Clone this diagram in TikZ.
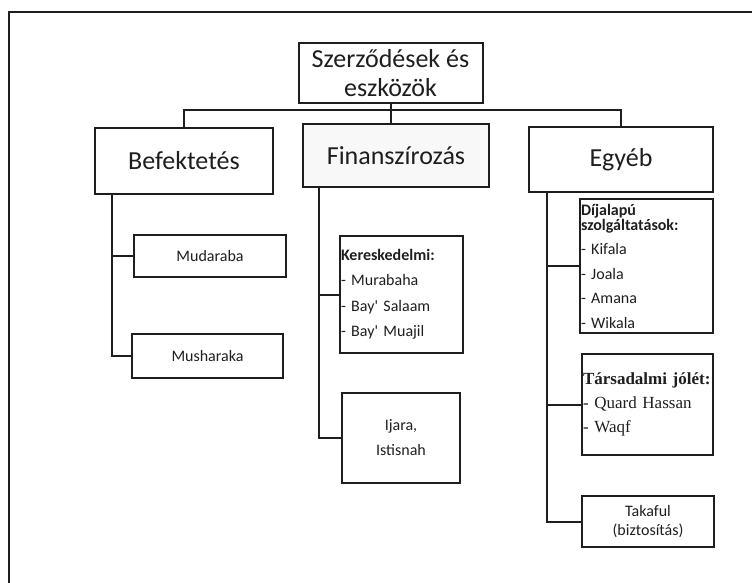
\documentclass[tikz,border=0pt]{standalone}
\usepackage{fontspec}
\setmainfont{Carlito}
\newfontfamily\timesfont{Liberation Serif}
\usetikzlibrary{positioning}
\definecolor{inkgray}{RGB}{30,30,30}
\definecolor{finfill}{RGB}{248,248,248}

\begin{document}
\begin{tikzpicture}[x=1pt,y=-1pt,
        box/.style={draw=inkgray, line width=2pt, inner sep=0pt, text=inkgray},
        big/.style={box, font=\fontsize{26}{29}\selectfont, align=center},
        small/.style={box, font=\fontsize{16}{25}\selectfont},
        wire/.style={draw=inkgray, line width=2pt}]
  \useasboundingbox (0,0) rectangle (752,583);
  \draw[wire] (752,12) -| (9,583);
  \node[big, minimum width=184pt, minimum height=60pt] (root) at (390.5,73) {Szerződések és\\eszközök};
  \node[big, minimum width=178pt, minimum height=66pt] (bef) at (184,161) {Befektetés};
  \node[big, fill=finfill, minimum width=186pt, minimum height=63pt] (fin) at (396,155.5) {Finanszírozás};
  \node[big, minimum width=184pt, minimum height=65pt] (egy) at (621,159.5) {Egyéb};
  \coordinate[below=6pt of root.south] (bus);
  \draw[wire] (root.south) -- (root.south |- fin.north);
  \draw[wire] (bef.north) |- (bus) -| (egy.north);

  \node[small, minimum width=152pt, minimum height=42pt] (muda) at (210,256) {Mudaraba};
  \node[small, minimum width=151pt, minimum height=44pt] (mush) at (207.5,356) {Musharaka};
  \draw[wire] ([xshift=18pt]bef.south west) |- (muda.west);
  \draw[wire] ([xshift=18pt]bef.south west) |- (mush.west);

  \node[small, font=\fontsize{16}{25.5}\selectfont, align=left, text width=121pt, inner xsep=1pt,
    minimum width=123pt, minimum height=117pt] (ker) at (401.5,294.5)
    {\textbf{Kereskedelmi:}\\- Murabaha\\- Bay\textquotesingle{} Salaam\\- Bay\textquotesingle{} Muajil};
  \node[small, align=center, minimum width=118pt, minimum height=90pt] (ijara) at (401,438) {Ijara,\\Istisnah};
  \draw[wire] ([xshift=17pt]fin.south west) |- (ker.west);
  \draw[wire] ([xshift=17pt]fin.south west) |- (ijara.west);

  \node[small, font=\fontsize{16}{24.5}\selectfont, align=left, text width=131pt, inner xsep=1pt,
    minimum width=133pt, minimum height=134pt] (dij) at (646.5,266)
    {\textbf{Díjalapú}\\[-9.5pt]\textbf{szolgáltatások:}\\- Kifala\\- Joala\\- Amana\\- Wikala};
  \node[box, font=\timesfont\fontsize{17}{24}\selectfont, align=left, text width=129pt, inner xsep=1pt,
    minimum width=131pt, minimum height=101pt] (tars) at (647.5,404.5)
    {\textbf{Társadalmi jólét:}\\- Quard Hassan\\- Waqf};
  \node[small, font=\fontsize{16}{19}\selectfont, align=center,
    minimum width=132pt, minimum height=51pt] (tak) at (648,521.5) {Takaful\\(biztosítás)};
  \draw[wire] ([xshift=19pt]egy.south west) |- (dij.west);
  \draw[wire] ([xshift=19pt]egy.south west) |- (tars.west);
  \draw[wire] ([xshift=19pt]egy.south west) |- (tak.west);
\end{tikzpicture}
\end{document}
